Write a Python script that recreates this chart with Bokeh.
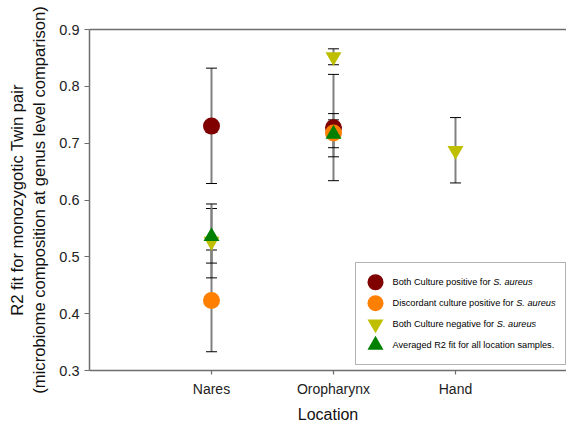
from bokeh.plotting import figure
from bokeh.models import (ColumnDataSource, Whisker, TeeHead, Range1d, FixedTicker,
                          LinearAxis, Label, BoxAnnotation)
from bokeh.embed import file_html
from bokeh.resources import INLINE

# ---------------- data ----------------
locations = ["Nares", "Oropharynx", "Hand"]
y_ticks = [0.3, 0.4, 0.5, 0.6, 0.7, 0.8, 0.9]

pos_x = [1, 2]
pos_mean = [0.730, 0.727]
pos_upper = [0.832, 0.821]
pos_lower = [0.629, 0.634]

disc_x = [1, 2]
disc_mean = [0.423, 0.718]
disc_upper = [0.512, 0.752]
disc_lower = [0.333, 0.676]

neg_x = [1, 2, 3]
neg_mean = [0.527, 0.852, 0.687]
neg_upper = [0.585, 0.866, 0.745]
neg_lower = [0.463, 0.838, 0.630]

avg_x = [1, 2]
avg_mean = [0.536, 0.716]
avg_upper = [0.593, 0.741]
avg_lower = [0.489, 0.692]

legend_text = ["Both Culture positive for ", "Discordant culture positive for ",
               "Both Culture negative for ", "Averaged R2 fit for all location samples."]
legend_italic = ["S. aureus", "S. aureus", "S. aureus", ""]

FONT = "Liberation Sans"
W, H = 566, 425
BL, BR, BT, BB = 89, 0, 29, 54
FW, FH = W - BL - BR, H - BT - BB

p = figure(width=W, height=H, output_backend="svg", toolbar_location=None,
           x_range=Range1d(0, 3.91), y_range=Range1d(0.3, 0.9),
           min_border_left=BL, min_border_right=BR, min_border_top=BT,
           min_border_bottom=BB, x_axis_type=None, y_axis_type=None)
p.outline_line_color = None
p.xgrid.visible = False
p.ygrid.visible = False
p.background_fill_color = "white"
p.border_fill_color = "white"
# pixel ranges used only to place the hand-built legend inside the frame
p.extra_x_ranges = {"leg": Range1d(0, FW)}
p.extra_y_ranges = {"leg": Range1d(0, FH)}

AX = "#6e6e6e"

xaxis = LinearAxis(ticker=FixedTicker(ticks=[1, 2, 3]),
                   major_label_overrides={i + 1: n for i, n in enumerate(locations)},
                   axis_label="Location")
yaxis = LinearAxis(ticker=FixedTicker(ticks=y_ticks),
                   axis_label="R2 fit for monozygotic Twin pair\n(microbiome composition at genus level comparison)")
for ax in (xaxis, yaxis):
    ax.axis_line_color = AX
    ax.axis_line_width = 1.5
    ax.major_tick_line_color = AX
    ax.major_tick_line_width = 1.2
    ax.major_tick_in = 0
    ax.minor_tick_line_color = None
    ax.major_label_text_font = FONT
    ax.major_label_text_color = "#222222"
    ax.axis_label_text_font = FONT
    ax.axis_label_text_font_style = "normal"
    ax.axis_label_text_color = "#111111"
xaxis.major_tick_out = 4
xaxis.major_label_text_font_size = "14px"
xaxis.major_label_standoff = 6
xaxis.axis_label_standoff = 6
xaxis.axis_label_text_font_size = "16px"
yaxis.major_tick_out = 5
yaxis.major_label_text_font_size = "14.5px"
yaxis.axis_label_standoff = 7
yaxis.axis_label_text_font_size = "16.6px"
p.add_layout(xaxis, "below")
p.add_layout(yaxis, "left")

top = LinearAxis(ticker=FixedTicker(ticks=[]), major_label_text_font_size="0px",
                 major_tick_line_color=None, minor_tick_line_color=None,
                 axis_line_color=AX, axis_line_width=1.5)
p.add_layout(top, "above")

series = [
    ("circle", 17, "#800000", pos_x, pos_mean, pos_upper, pos_lower),
    ("circle", 17, "#FF8000", disc_x, disc_mean, disc_upper, disc_lower),
    ("inverted_triangle", 16, "#BFBF00", neg_x, neg_mean, neg_upper, neg_lower),
    ("triangle", 16, "#008000", avg_x, avg_mean, avg_upper, avg_lower),
]

for marker, size, color, xs, ms, ups, los in series:
    src = ColumnDataSource(dict(x=xs, y=ms, upper=ups, lower=los))
    p.add_layout(Whisker(source=src, base="x", upper="upper", lower="lower",
                         line_color="#808080", line_width=2,
                         upper_head=TeeHead(size=11, line_color="black", line_width=1),
                         lower_head=TeeHead(size=11, line_color="black", line_width=1)))
for marker, size, color, xs, ms, ups, los in series:
    src = ColumnDataSource(dict(x=xs, y=ms))
    p.scatter("x", "y", source=src, marker=marker, size=size,
              fill_color=color, line_color=None)

# ---------------- hand-built legend (screen pixels inside frame) ----------------
LEG_FS = 9.2
LX0, LX1, LY0, LY1 = 266, 476, 6, 108       # box: left, right, bottom, top
ROW0, PITCH = 19.5, 21                      # first row centre below top, row pitch
GLYPH_CX, TEXT_X = 286, 303

p.add_layout(BoxAnnotation(left=LX0, right=LX1, bottom=LY0, top=LY1,
                           left_units="screen", right_units="screen",
                           bottom_units="screen", top_units="screen",
                           fill_color="white", fill_alpha=1.0,
                           line_color="black", line_width=1, level="underlay"))

ARIAL = {' ': 278, '.': 278, 'B': 667, 'C': 722, 'D': 722, 'S': 667, 'A': 667, 'R': 722,
         '2': 556, 'a': 556, 'b': 556, 'c': 500, 'd': 556, 'e': 556, 'f': 278, 'g': 556,
         'h': 556, 'i': 222, 'l': 222, 'm': 833, 'n': 556, 'o': 556, 'p': 556, 'r': 333,
         's': 500, 't': 278, 'u': 556, 'v': 500}


def tw(s):
    return sum(ARIAL.get(c, 556) for c in s) * LEG_FS / 1000.0


for i, (marker, size, color, *_r) in enumerate(series):
    yc = LY1 - ROW0 - i * PITCH
    p.scatter(x=[GLYPH_CX], y=[yc], marker=marker, size=16, fill_color=color,
              line_color=None, x_range_name="leg", y_range_name="leg")
    p.add_layout(Label(x=TEXT_X, y=yc, x_units="screen", y_units="screen",
                       text=legend_text[i], text_font=FONT, text_font_size=f"{LEG_FS}px",
                       text_baseline="middle", text_align="left", text_color="black",
                       level="overlay"))
    if legend_italic[i]:
        p.add_layout(Label(x=TEXT_X + tw(legend_text[i]), y=yc, x_units="screen",
                           y_units="screen", text=legend_italic[i], text_font=FONT,
                           text_font_style="italic", text_font_size=f"{LEG_FS}px",
                           text_baseline="middle", text_align="left",
                           text_color="black", level="overlay"))

open("out.html", "w").write(file_html(p, INLINE))
